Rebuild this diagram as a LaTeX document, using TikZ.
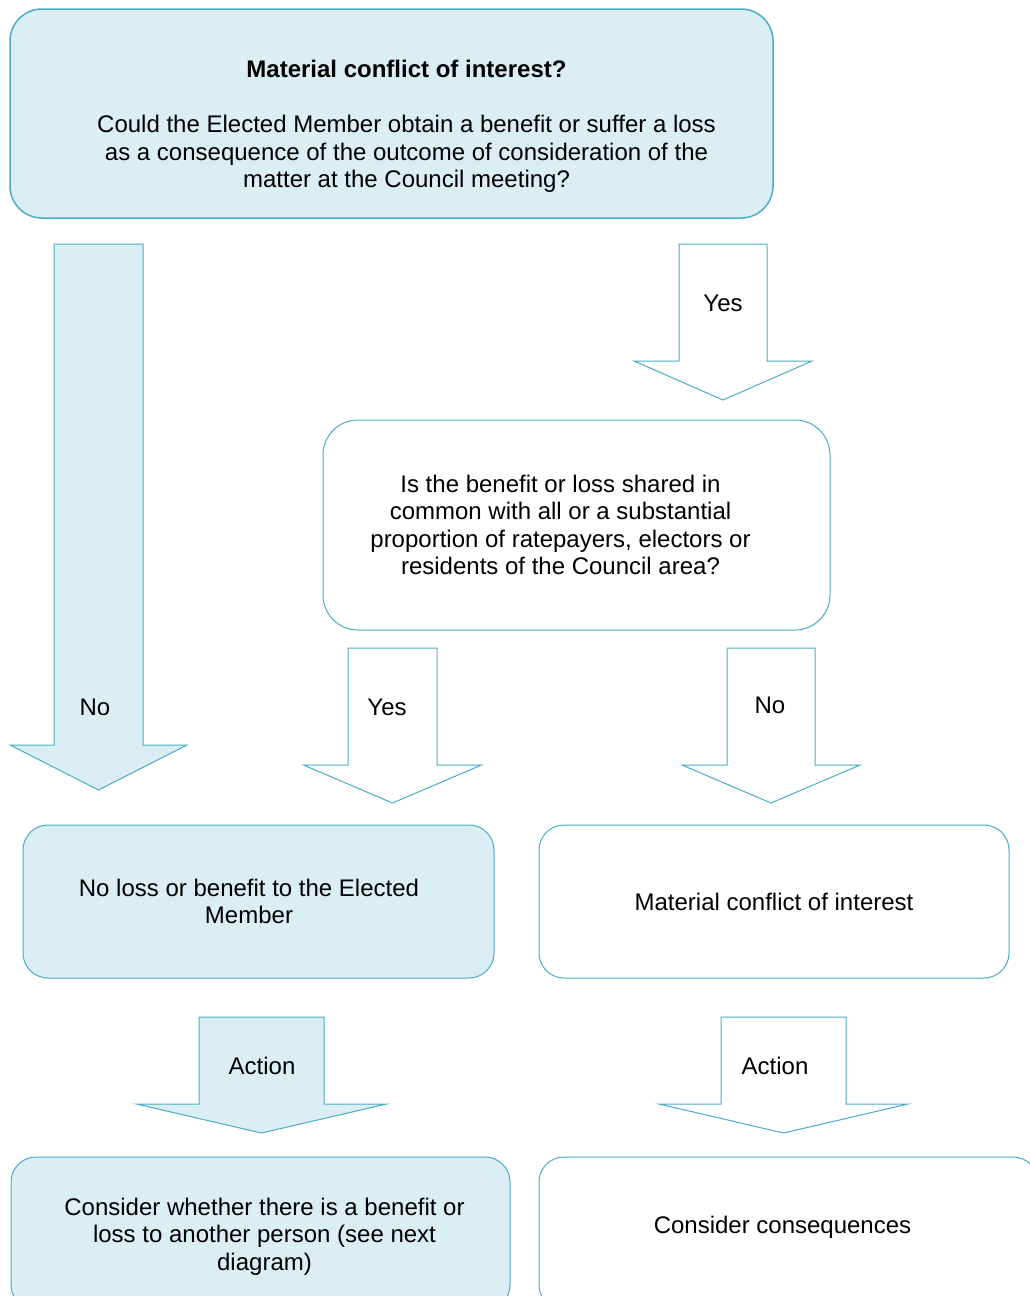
\documentclass[tikz,border=0pt]{standalone}
\usepackage{fontspec}
\setmainfont{Liberation Sans}
\usetikzlibrary{positioning}
\definecolor{boxfill}{HTML}{DAEEF3}
\definecolor{boxline}{HTML}{4BACC6}
\tikzset{
every node/.style={font=\fontsize{24}{27.6}\selectfont, align=center}, % Arial-like text everywhere
box/.style={draw=boxline, line width=1pt, rounded corners=25pt, fill=white}, % decision and outcome boxes
shaded/.style={fill=boxfill}, % the light blue path
bigarrow/.style={draw=boxline, line width=1pt, line join=miter, fill=white}, % the fat down arrows
}
% fat arrow pointing down: [style]{centre x}{top}{neck}{tip}{half shaft}{half head}
\newcommand{\blockdown}[7][]{%
  \draw[bigarrow,#1] ({#2-#6},#3) -- ({#2+#6},#3) -- ({#2+#6},#4) -- ({#2+#7},#4)
    -- (#2,#5) -- ({#2-#7},#4) -- ({#2-#6},#4) -- cycle;}

\begin{document}
\begin{tikzpicture}[x=1pt, y=-1pt]
            \useasboundingbox (0,0) rectangle (1029,1296);
            % boxes, the text of each sits a little off its centre
            \node[box, shaded, line width=1.5pt, rounded corners=32pt, minimum width=763pt, minimum height=209pt,
                label={[name=materialtext, xshift=15pt, yshift=-13pt]center:{\textbf{Material conflict of interest?}\\[27.6pt]
                 Could the Elected Member obtain a benefit or suffer a loss\\
                 as a consequence of the outcome of consideration of the\\
                 matter at the Council meeting?}}] (material) at (391.5,113.5) {};
            \node[box, rounded corners=35pt, minimum width=507pt, minimum height=210pt,
                label={[name=sharedtext, xshift=-16pt]center:{Is the benefit or loss shared in\\ common with all or a substantial\\ proportion of ratepayers, electors or\\ residents of the Council area?}}] (shared) at (576.5,525) {};
            \node[box, shaded, minimum width=471pt, minimum height=153pt,
                label={[name=nolosstext, xshift=-9.5pt]center:{No loss or benefit to the Elected\\ Member}}] (noloss) at (258.5,901.5) {};
            \node[box, minimum width=470pt, minimum height=153pt,
                label={[name=conflicttext]center:Material conflict of interest}] (conflict) at (774,901.5) {};
            \node[box, shaded, minimum width=499pt, minimum height=153pt,
                label={[name=anothertext, xshift=4pt, yshift=-3pt]center:{Consider whether there is a benefit or\\ loss to another person (see next\\ diagram)}}] (another) at (260.5,1233.5) {};
            \node[box, minimum width=499pt, minimum height=153pt,
                label={[name=consequencestext, xshift=-6pt, yshift=6pt]center:Consider consequences}] (consequences) at (788.5,1233.5) {};
            % arrows
            \blockdown[shaded]{98.5}{244}{745}{790}{44.5}{88.5}
            \blockdown{723}{244}{361}{400}{44}{89}
            \blockdown{392.5}{648}{765}{803}{44.5}{89}
            \blockdown{771}{648}{765}{803}{44}{89}
            \blockdown[shaded]{261.5}{1017}{1104}{1133}{62.5}{125}
            \blockdown{783.5}{1017}{1104}{1133}{62.5}{124.5}
            % arrow labels
            \node (nofirst) at (95,707) {No};
            \node (yesfirst) at (723,303) {Yes};
            \node (yesshared) at (387,707) {Yes};
            \node (noshared) at (770,705) {No};
            \node (actionleft) at (262,1066) {Action};
            \node (actionright) at (775,1066) {Action};
        \end{tikzpicture}
\end{document}
